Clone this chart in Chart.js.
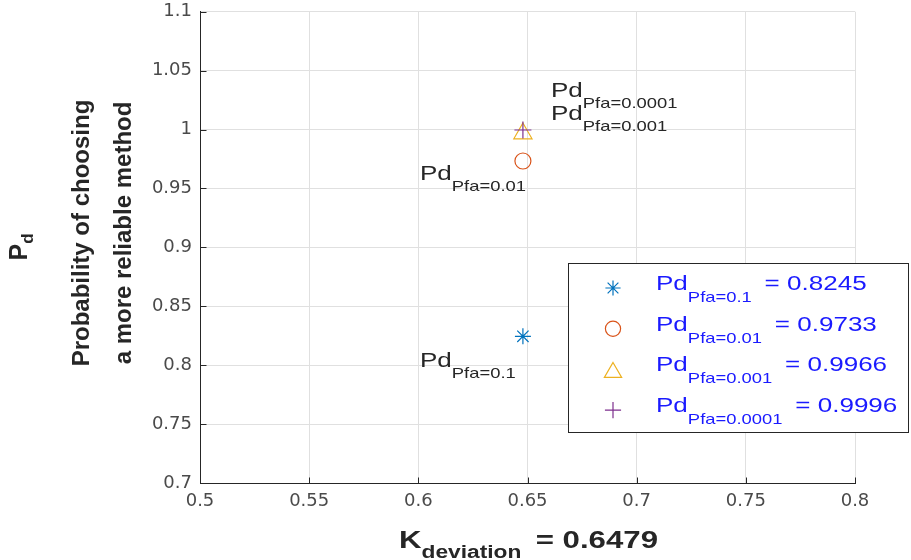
<!DOCTYPE html>
<html><head><meta charset="utf-8">
<script src="https://cdn.jsdelivr.net/npm/chart.js@4.4.1/dist/chart.umd.min.js"></script>
<style>html,body{margin:0;padding:0;background:#fff;}#wrap{width:911px;height:560px;position:relative;}</style>
</head><body><div id="wrap"><canvas id="c" width="911" height="560"></canvas></div>
<script>
// ---- data ----
const kDeviation = 0.6479;
const kLabel = '0.6479';
const pfaLabels = ['0.1', '0.01', '0.001', '0.0001'];
const pdValues = [0.8245, 0.9733, 0.9966, 0.9996];
const pdLabels = ['0.8245', '0.9733', '0.9966', '0.9996'];
const xTickValues = [0.5, 0.55, 0.6, 0.65, 0.7, 0.75, 0.8];
const xTickLabels = ['0.5', '0.55', '0.6', '0.65', '0.7', '0.75', '0.8'];
const yTickValues = [0.7, 0.75, 0.8, 0.85, 0.9, 0.95, 1, 1.05, 1.1];
const yTickLabels = ['0.7', '0.75', '0.8', '0.85', '0.9', '0.95', '1', '1.05', '1.1'];

// ---- styles ----
const seriesColors = ['#0072BD', '#D95319', '#EDB120', '#7E2F8E'];
const seriesMarkers = ['star', 'circle', 'triangle', 'cross'];
const markerRadius = [8, 8, 10.5, 8.5];
// label offsets (pixels) relative to each point
const annotOffsets = [[-103, 31], [-103, 19], [28, -14], [28, -33]];

const SANS = '"Liberation Sans", Arial, Helvetica, sans-serif';
const TXT = '#262626';
const SX = 1.27;

function drawRich(ctx, x, y, segs, sx, measureOnly) {
  ctx.save();
  let w = 0;
  for (const s of segs) {
    ctx.font = s.font;
    w += ctx.measureText(s.text).width + (s.gap || 0);
  }
  if (!measureOnly) {
    ctx.translate(x, y);
    ctx.scale(sx, 1);
    ctx.textAlign = 'left';
    ctx.textBaseline = 'alphabetic';
    let cx = 0;
    for (const s of segs) {
      ctx.font = s.font;
      ctx.fillStyle = s.color;
      ctx.fillText(s.text, cx, s.dy || 0);
      cx += ctx.measureText(s.text).width + (s.gap || 0);
    }
  }
  ctx.restore();
  return w * sx;
}

function marker(ctx, style, r, x, y, color) {
  ctx.save();
  ctx.strokeStyle = color;
  ctx.fillStyle = 'rgba(0,0,0,0)';
  ctx.lineWidth = 1.2;
  Chart.helpers.drawPoint(ctx, {pointStyle: style, radius: r, rotation: 0, borderWidth: 1.2}, x, y);
  ctx.restore();
}

const decorPlugin = {
  id: 'decor',
  afterDraw(chart) {
    const ctx = chart.ctx;
    const xs = chart.scales.x, ys = chart.scales.y;
    const ca = chart.chartArea;
    // inward tick marks
    ctx.save();
    ctx.strokeStyle = TXT;
    ctx.lineWidth = 1;
    ctx.beginPath();
    xTickValues.forEach(v => {
      const px = Math.round(xs.getPixelForValue(v)) + 0.5;
      ctx.moveTo(px, Math.round(ca.bottom) + 0.5);
      ctx.lineTo(px, Math.round(ca.bottom) - 5.5);
    });
    yTickValues.forEach(v => {
      const py = Math.round(ys.getPixelForValue(v)) + 0.5;
      ctx.moveTo(Math.round(ca.left) + 0.5, py);
      ctx.lineTo(Math.round(ca.left) + 6.5, py);
    });
    ctx.stroke();
    ctx.restore();

    // point annotations
    const mainF = '20.5px ' + SANS, subF = '14.5px ' + SANS;
    pdValues.forEach((v, i) => {
      const px = xs.getPixelForValue(kDeviation);
      const py = ys.getPixelForValue(v);
      drawRich(ctx, px + annotOffsets[i][0], py + annotOffsets[i][1], [
        {text: 'Pd', font: mainF, color: TXT},
        {text: 'Pfa=' + pfaLabels[i], font: subF, color: TXT, dy: 11}
      ], SX);
    });

    // legend
    const lx = 568.5, ly = 263.5, lw = 340, lh = 169;
    ctx.save();
    ctx.fillStyle = '#fff';
    ctx.fillRect(lx, ly, lw, lh);
    ctx.strokeStyle = TXT;
    ctx.lineWidth = 1;
    ctx.strokeRect(lx, ly, lw, lh);
    ctx.restore();
    const blue = '#1a1aff';
    pdValues.forEach((v, i) => {
      const base = 290 + i * 40.7;
      let my = base - 2;
      if (seriesMarkers[i] === 'triangle') my = base + 1;
      marker(ctx, seriesMarkers[i], markerRadius[i] * 0.95, 613, my, seriesColors[i]);
      drawRich(ctx, 656, base, [
        {text: 'Pd', font: mainF, color: blue},
        {text: 'Pfa=' + pfaLabels[i], font: subF, color: blue, dy: 12, gap: 10},
        {text: '= ' + pdLabels[i], font: mainF, color: blue}
      ], SX);
    });

    // x title
    const xSegs = [
      {text: 'K', font: 'bold 24px ' + SANS, color: TXT},
      {text: 'deviation', font: 'bold 17.5px ' + SANS, color: TXT, dy: 10, gap: 11},
      {text: '= ' + kLabel, font: 'bold 24px ' + SANS, color: TXT}
    ];
    const xw = drawRich(ctx, 0, 0, xSegs, 1.3, true);
    drawRich(ctx, (ca.left + ca.right) / 2 + 1 - xw / 2, 548, xSegs, 1.3);

    // y title (rotated)
    ctx.save();
    ctx.fillStyle = TXT;
    ctx.textBaseline = 'alphabetic';
    ctx.textAlign = 'center';
    ctx.font = 'bold 24px ' + SANS;
    const lines = ['Probability of choosing', 'a more reliable method'];
    const baseX = [89, 131];
    lines.forEach((t, i) => {
      ctx.save();
      ctx.translate(baseX[i], 233);
      ctx.rotate(-Math.PI / 2);
      ctx.fillText(t, 0, 0);
      ctx.restore();
    });
    ctx.save();
    ctx.translate(27, 247);
    ctx.rotate(-Math.PI / 2);
    ctx.textAlign = 'left';
    ctx.font = 'bold 25px ' + SANS;
    const pw = ctx.measureText('P').width;
    ctx.font = 'bold 17px ' + SANS;
    const dw = ctx.measureText('d').width;
    const start = -(pw + dw) / 2;
    ctx.font = 'bold 25px ' + SANS;
    ctx.fillText('P', start, 0);
    ctx.font = 'bold 17px ' + SANS;
    ctx.fillText('d', start + pw, 6);
    ctx.restore();
    ctx.restore();
  }
};

const datasets = pdValues.map((v, i) => ({
  label: 'Pd Pfa=' + pfaLabels[i],
  data: [{x: kDeviation, y: v}],
  pointStyle: seriesMarkers[i],
  pointRadius: markerRadius[i],
  pointHoverRadius: markerRadius[i],
  borderColor: seriesColors[i],
  backgroundColor: 'rgba(0,0,0,0)',
  pointBorderWidth: 1.2,
  borderWidth: 1.2,
  showLine: false,
  order: 3 - i
}));

const tickFont = {family: '"DejaVu Sans", sans-serif', size: 18};

new Chart(document.getElementById('c'), {
  type: 'scatter',
  data: {datasets},
  options: {
    responsive: false,
    animation: false,
    events: [],
    layout: {padding: {top: 11, right: 56, left: 0, bottom: 0}},
    plugins: {legend: {display: false}, tooltip: {enabled: false}, title: {display: false}},
    scales: {
      x: {
        type: 'linear', min: 0.5, max: 0.8,
        afterBuildTicks: s => { s.ticks = xTickValues.map(v => ({value: v})); },
        afterFit: s => { s.height = 77; s.paddingLeft = 0; s.paddingRight = 0; },
        ticks: {
          callback: (v, i) => xTickLabels[i],
          font: tickFont, color: '#4a4a4a', padding: 8, maxRotation: 0, autoSkip: false
        },
        grid: {color: '#e0e0e0', drawTicks: false, lineWidth: 1},
        border: {color: TXT, width: 1}
      },
      y: {
        type: 'linear', min: 0.7, max: 1.1,
        afterBuildTicks: s => { s.ticks = yTickValues.map(v => ({value: v})); },
        afterFit: s => { s.width = 200; s.paddingTop = 0; s.paddingBottom = 0; },
        ticks: {
          callback: (v, i) => yTickLabels[i],
          font: tickFont, color: '#4a4a4a', padding: 8, autoSkip: false
        },
        grid: {color: '#e0e0e0', drawTicks: false, lineWidth: 1},
        border: {color: TXT, width: 1}
      }
    }
  },
  plugins: [decorPlugin]
});
</script>
</body></html>
